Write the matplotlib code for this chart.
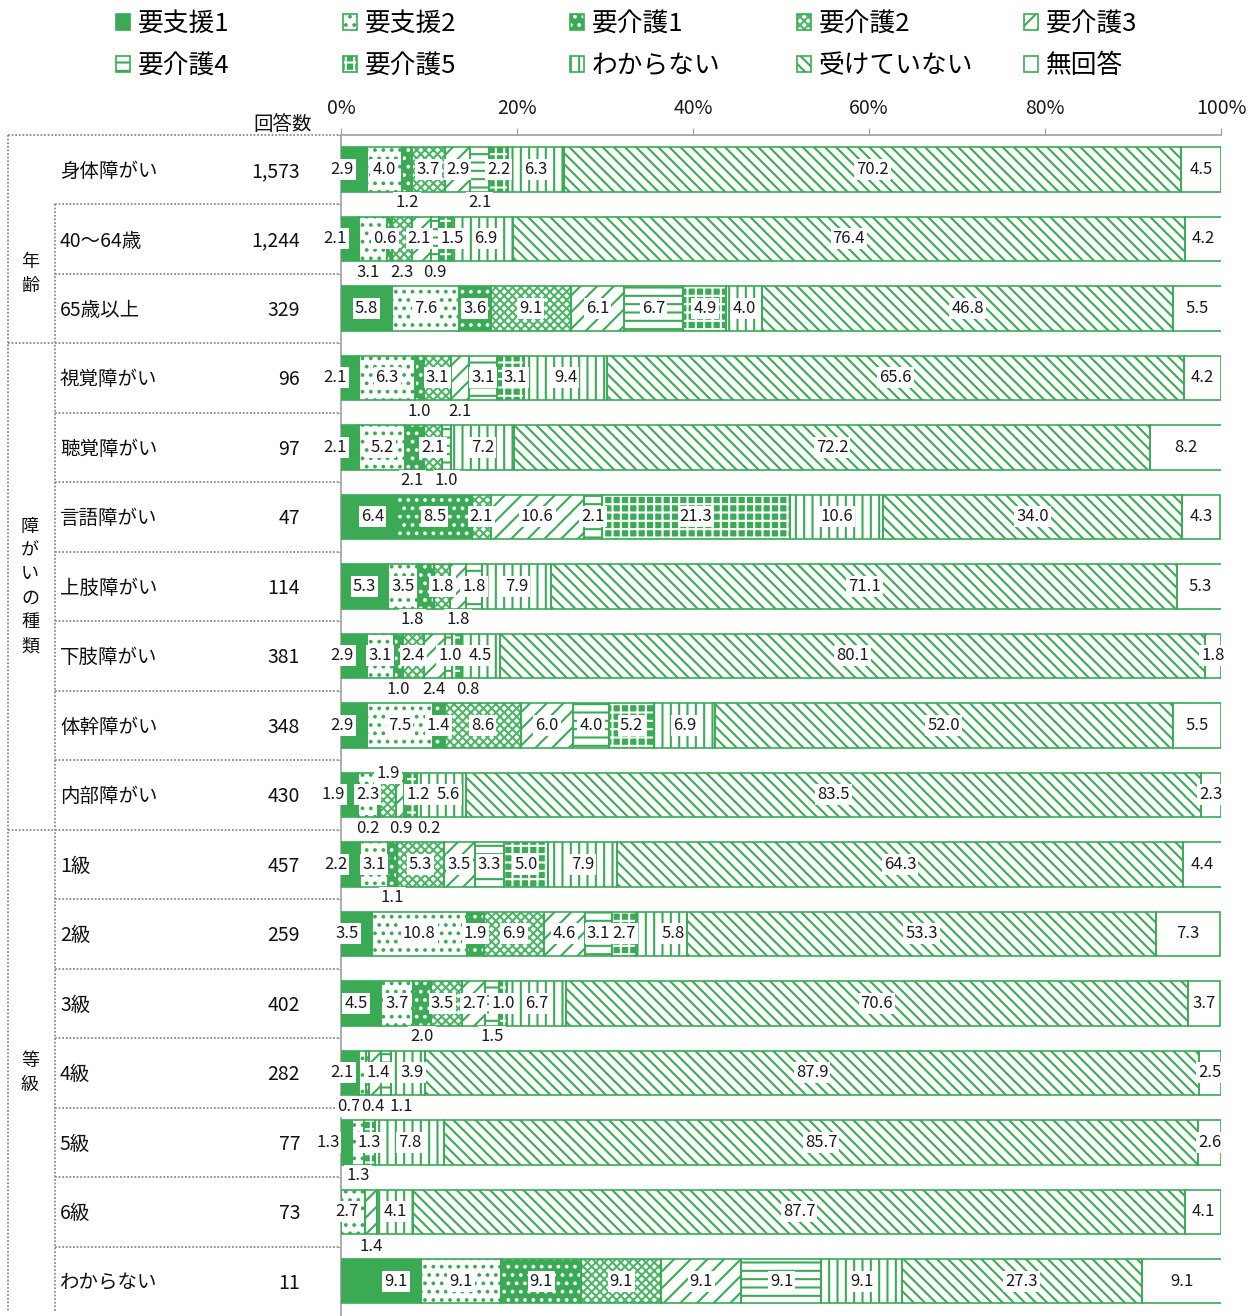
import matplotlib
matplotlib.use('Agg')
import matplotlib.pyplot as plt
import matplotlib.transforms as mtransforms
from matplotlib.patches import Patch
from matplotlib.legend_handler import HandlerTuple
import numpy as np

plt.rcParams['font.family'] = ['Noto Sans CJK JP', 'DejaVu Sans']
plt.rcParams['hatch.linewidth'] = 1.5

# ---------------- data ----------------
categories = ['要支援1', '要支援2', '要介護1', '要介護2', '要介護3',
              '要介護4', '要介護5', 'わからない', '受けていない', '無回答']
rows = ['身体障がい', '40〜64歳', '65歳以上', '視覚障がい', '聴覚障がい', '言語障がい',
        '上肢障がい', '下肢障がい', '体幹障がい', '内部障がい',
        '1級', '2級', '3級', '4級', '5級', '6級', 'わからない']
counts = ['1,573', '1,244', '329', '96', '97', '47', '114', '381', '348', '430',
          '457', '259', '402', '282', '77', '73', '11']

yoshien1 = [2.9, 2.1, 5.8, 2.1, 2.1, 6.4, 5.3, 2.9, 2.9, 1.9, 2.2, 3.5, 4.5, 2.1, 1.3, 0, 9.1]
yoshien2 = [4.0, 3.1, 7.6, 6.3, 5.2, 0, 3.5, 3.1, 7.5, 2.3, 3.1, 10.8, 3.7, 0.7, 1.3, 2.7, 9.1]
yokaigo1 = [1.2, 0.6, 3.6, 1.0, 2.1, 8.5, 1.8, 1.0, 1.4, 0.2, 1.1, 1.9, 2.0, 0, 0, 0, 9.1]
yokaigo2 = [3.7, 2.3, 9.1, 3.1, 2.1, 2.1, 1.8, 2.4, 8.6, 1.9, 5.3, 6.9, 3.5, 0.4, 0, 0, 9.1]
yokaigo3 = [2.9, 2.1, 6.1, 2.1, 0, 10.6, 1.8, 2.4, 6.0, 0.9, 3.5, 4.6, 2.7, 1.4, 0, 1.4, 9.1]
yokaigo4 = [2.1, 0.9, 6.7, 3.1, 1.0, 2.1, 1.8, 0.8, 4.0, 0.2, 3.3, 3.1, 1.5, 1.1, 0, 0, 9.1]
yokaigo5 = [2.2, 1.5, 4.9, 3.1, 0, 21.3, 0, 1.0, 5.2, 1.2, 5.0, 2.7, 1.0, 0, 1.3, 0, 0]
wakaranai = [6.3, 6.9, 4.0, 9.4, 7.2, 10.6, 7.9, 4.5, 6.9, 5.6, 7.9, 5.8, 6.7, 3.9, 7.8, 4.1, 9.1]
ukete_inai = [70.2, 76.4, 46.8, 65.6, 72.2, 34.0, 71.1, 80.1, 52.0, 83.5, 64.3, 53.3, 70.6, 87.9, 85.7, 87.7, 27.3]
mukaito = [4.5, 4.2, 5.5, 4.2, 8.2, 4.3, 5.3, 1.8, 5.5, 2.3, 4.4, 7.3, 3.7, 2.5, 2.6, 4.1, 9.1]

series = [yoshien1, yoshien2, yokaigo1, yokaigo2, yokaigo3,
          yokaigo4, yokaigo5, wakaranai, ukete_inai, mukaito]

xticks = [0, 20, 40, 60, 80, 100]
xticklabels = ['0%', '20%', '40%', '60%', '80%', '100%']

groups = [('年齢', 1, 2), ('障がいの種類', 3, 9), ('等級', 10, 16)]

# ---------------- styles ----------------
G = '#3AAA55'
styles = [
    (G, None, G),
    ('white', '..', G),
    (G, '..', 'white'),
    ('white', 'xxxx', '#4DB565'),
    ('white', '//', G),
    ('white', '--', G),
    (G, '++', 'white'),
    ('white', '||', G),
    ('white', '\\\\\\', G),
    ('white', None, G),
]

# label placement tweaks: (row, category) -> (x in %, vertical offset in rows)
label_tweaks = {
    (0, 0): (0.1, 0), (0, 2): (None, .48), (0, 5): (None, .48),
    (1, 0): (-0.7, 0), (1, 1): (3.1, .48), (1, 2): (5.0, 0), (1, 3): (None, .48),
    (1, 4): (8.9, 0), (1, 5): (None, .48), (1, 6): (12.6, 0), (1, 7): (16.5, 0),
    (3, 0): (-0.7, 0), (3, 2): (None, .48), (3, 4): (None, .48), (3, 6): (19.8, 0),
    (4, 0): (-0.7, 0), (4, 2): (8.1, .48), (4, 5): (None, .48),
    (5, 0): (3.6, 0),
    (6, 2): (8.1, .48), (6, 4): (None, .48),
    (7, 0): (0.1, 0), (7, 2): (None, .48), (7, 4): (None, .48), (7, 5): (14.4, .48),
    (7, 6): (12.4, 0),
    (8, 0): (0.1, 0),
    (9, 0): (-0.9, 0), (9, 2): (3.07, .48), (9, 3): (None, -.31), (9, 4): (None, .48),
    (9, 5): (10.0, .48), (9, 6): (8.75, 0), (9, 7): (12.2, 0),
    (10, 0): (-0.6, 0), (10, 2): (None, .48),
    (11, 0): (0.7, 0), (11, 7): (37.7, 0),
    (12, 0): (1.7, 0), (12, 2): (None, .48), (12, 3): (11.5, 0), (12, 5): (None, .48),
    (13, 0): (0.1, 0), (13, 1): (0.9, .48), (13, 3): (3.6, .48), (13, 4): (4.2, 0),
    (13, 5): (6.8, .48), (13, 7): (8.07, 0),
    (14, 0): (-1.5, 0), (14, 1): (None, .48),
    (15, 1): (0.7, 0), (15, 4): (None, .5),
    (16, 0): (6.25, 0),
}

W, H = 1255, 1316
fig = plt.figure(figsize=(W / 100, H / 100), dpi=100)
row_px = 69.7
top_px = 134.7
n_rows_vis = (H - top_px) / row_px
ax = fig.add_axes([341 / W, 0, 880 / W, (H - top_px) / H])
ax.set_xlim(0, 100)
ax.set_ylim(-0.5 + n_rows_vis, -0.5)

y = np.arange(len(rows))
bar_h = 0.64
left = np.zeros(len(rows))
handles = []
for ci, (cat, vals) in enumerate(zip(categories, series)):
    face, hatch, hcol = styles[ci]
    vals = np.array(vals, dtype=float)
    ax.barh(y, vals, left=left, height=bar_h, color=face, edgecolor=hcol,
            hatch=hatch, linewidth=0, zorder=2)
    ax.barh(y, vals, left=left, height=bar_h, fill=False, edgecolor=G,
            linewidth=1.2, zorder=3)
    for ri, v in enumerate(vals):
        if v <= 0:
            continue
        xc = left[ri] + v / 2
        dy = 0
        if (ri, ci) in label_tweaks:
            tx, dy = label_tweaks[(ri, ci)]
            if tx is not None:
                xc = tx
        ax.text(xc, ri + dy, f'{v:.1f}', ha='center', va='center', fontsize=12,
                color='#1a1a1a', zorder=5, clip_on=False,
                bbox=dict(boxstyle='square,pad=0.12', fc='white', ec='none'))
    left += vals
    handles.append((Patch(facecolor=face, edgecolor=hcol, hatch=hatch, linewidth=0),
                    Patch(fill=False, edgecolor=G, linewidth=1.2)))

# axes styling
ax.xaxis.tick_top()
ax.set_xticks(xticks)
ax.set_xticklabels(xticklabels)
ax.tick_params(axis='x', which='major', length=5, color='#A0A0A0', labelsize=14,
               pad=6.5, labelcolor='#1a1a1a')
ax.set_yticks([])
ax.set_yticks(np.arange(-0.5, len(rows), 1), minor=True)
ax.tick_params(axis='y', which='minor', length=3, color='#A0A0A0')
for s in ['right', 'bottom']:
    ax.spines[s].set_visible(False)
for s in ['top', 'left']:
    ax.spines[s].set_color('#A0A0A0')
    ax.spines[s].set_linewidth(1.2)

# left table
trans = mtransforms.blended_transform_factory(fig.transFigure, ax.transData)
lkw = dict(color='#8C8C8C', lw=1.3, linestyle=(0, (1, 1)), transform=trans,
           clip_on=False, zorder=1)
x_outer, x_inner, x_end = 8 / W, 55 / W, 340 / W
bottom_row = -0.5 + n_rows_vis
full_lines = {-0.5, 2.5, 9.5}
for b in np.arange(-0.5, len(rows) - 0.5, 1):
    x0 = x_outer if b in full_lines else x_inner
    ax.plot([x0, x_end], [b, b], **lkw)
ax.plot([x_outer, x_outer], [-0.5, bottom_row], **lkw)
ax.plot([x_inner, x_inner], [0.5, bottom_row], **lkw)

for ri, (name, n) in enumerate(zip(rows, counts)):
    ax.text(60 / W, ri + 0.03, name, transform=trans, ha='left', va='center',
            fontsize=14, color='#111111')
    ax.text(300 / W, ri + 0.03, n, transform=trans, ha='right', va='center',
            fontsize=14, color='#111111')

char_step = 24 / row_px
for label, r0, r1 in groups:
    yc = (r0 + r1) / 2
    nch = len(label)
    for k, ch in enumerate(label):
        ax.text(30 / W, yc + (k - (nch - 1) / 2) * char_step, ch, transform=trans,
                ha='center', va='center', fontsize=13, color='#111111')

fig.text(283 / W, 1 - 124 / H, '回答数', ha='center', va='center', fontsize=14,
         color='#111111')

# legend: 5 columns x 2 rows
col_x = [116, 343, 570, 797, 1024]
for c in range(5):
    hs = [handles[c], handles[c + 5]]
    ls = [categories[c], categories[c + 5]]
    fig.legend(hs, ls, loc='upper left', bbox_to_anchor=((col_x[c]) / W, 1 - 11 / H),
               frameon=False, borderpad=0, borderaxespad=0, handlelength=0.55,
               handleheight=0.55, handletextpad=0.3, labelspacing=0.62,
               fontsize=18.5,
               handler_map={tuple: HandlerTuple(ndivide=1, pad=0)})

fig.savefig('out.png', dpi=100)
